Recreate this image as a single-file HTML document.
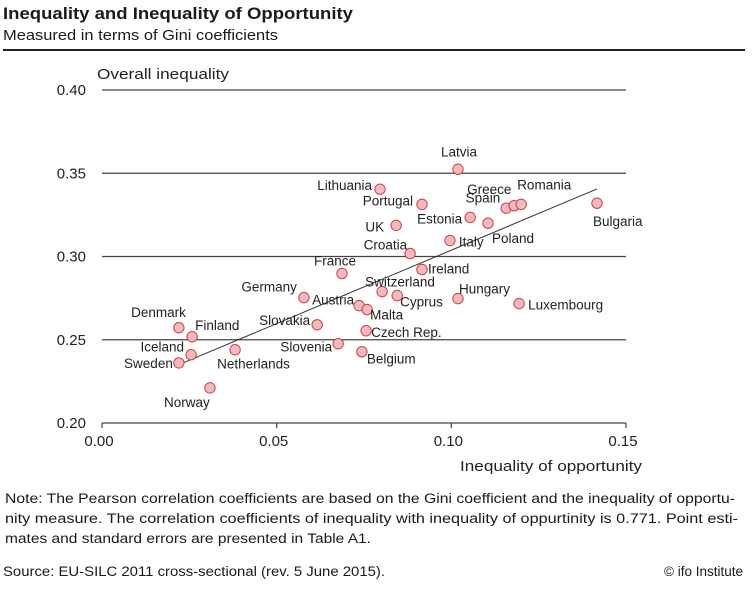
<!DOCTYPE html>
<html><head><meta charset="utf-8">
<style>
body{margin:0;background:#fff;font-family:"Liberation Sans",sans-serif;color:#1a1a1a;}
#wrap{position:relative;width:752px;height:593px;overflow:hidden;}
</style></head>
<body>
<div id="wrap">
<svg id="plot" width="752" height="593" style="position:absolute;left:0;top:0">
<text x="3" y="19" font-size="17" font-weight="bold" fill="#1a1a1a" textLength="350" lengthAdjust="spacingAndGlyphs">Inequality and Inequality of Opportunity</text>
<text x="3" y="40" font-size="15" fill="#1a1a1a" textLength="275" lengthAdjust="spacingAndGlyphs">Measured in terms of Gini coefficients</text>
<rect x="3" y="49" width="742" height="2" fill="#222"/>
<g font-size="13.5" fill="#1a1a1a">
<text x="5" y="503" textLength="730" lengthAdjust="spacingAndGlyphs">Note: The Pearson correlation coefficients are based on the Gini coefficient and the inequality of opportu-</text>
<text x="5" y="523" textLength="733" lengthAdjust="spacingAndGlyphs">nity measure. The correlation coefficients of inequality with inequality of oppurtinity is 0.771. Point esti-</text>
<text x="5" y="543" textLength="366" lengthAdjust="spacingAndGlyphs">mates and standard errors are presented in Table A1.</text>
</g>
<text x="3" y="576" font-size="13.5" fill="#1a1a1a" textLength="382" lengthAdjust="spacingAndGlyphs">Source: EU-SILC 2011 cross-sectional (rev. 5 June 2015).</text>
<text x="743" y="576" font-size="13.5" fill="#1a1a1a" text-anchor="end">©  ifo Institute</text>
</svg>
</div>
<script>
const countries=["Latvia","Lithuania","Portugal","Greece","Spain","Romania","Estonia","Poland","Bulgaria","UK","Italy","Croatia","France","Ireland","Germany","Switzerland","Cyprus","Hungary","Luxembourg","Austria","Malta","Slovakia","Denmark","Finland","Czech Rep.","Slovenia","Belgium","Netherlands","Iceland","Sweden","Norway"];
const oppValues=[0.1019,0.0796,0.0916,0.1157,0.1180,0.1200,0.1054,0.1105,0.1417,0.0842,0.0996,0.0882,0.0687,0.0916,0.0578,0.0802,0.0845,0.1019,0.1194,0.0736,0.0759,0.0616,0.0220,0.0258,0.0756,0.0676,0.0744,0.0381,0.0255,0.0220,0.0309];
const giniValues=[0.3524,0.3404,0.3313,0.3290,0.3305,0.3313,0.3235,0.3200,0.3320,0.3187,0.3096,0.3018,0.2898,0.2922,0.2753,0.2789,0.2765,0.2747,0.2717,0.2705,0.2681,0.2590,0.2572,0.2518,0.2554,0.2476,0.2428,0.2440,0.2410,0.2361,0.2211];
const xTicks=[0,0.05,0.10,0.15];
const xTickLabels=["0.00","0.05","0.10","0.15"];
const yTicks=[0.20,0.25,0.30,0.35,0.40];
const yTickLabels=["0.20","0.25","0.30","0.35","0.40"];
const fitSlope=0.882, fitIntercept=0.2156;
const labOff=[[1,-13,"middle"],[-8,1,"end"],[-9,1,"end"],[-39,-14,"start"],[-14,-3,"end"],[-4,-15,"start"],[-8,6,"end"],[4,20,"start"],[-4,23,"start"],[-12,6,"end"],[9,6,"start"],[-3,-4,"end"],[14,-8,"end"],[6,4,"start"],[-7,-6,"end"],[-17,-5,"start"],[3,11,"start"],[1,-5,"start"],[9,6,"start"],[-47,-1,"start"],[3,10,"start"],[-7,0,"end"],[7,-11,"end"],[3,-7,"start"],[5,6,"start"],[-6,8,"end"],[5,12,"start"],[-18,19,"start"],[-7,-3,"end"],[-6,5,"end"],[-23,19,"middle"]];
const X0=102,X1=626,Y0=423,Y1=90;
const xs=v=>X0+(v-0)/(0.15)*(X1-X0);
const ys=v=>Y0-(v-0.20)/(0.20)*(Y0-Y1);
const NS="http://www.w3.org/2000/svg";
const svg=document.getElementById('plot');
function mk(t,a){const e=document.createElementNS(NS,t);for(const k in a)e.setAttribute(k,a[k]);svg.appendChild(e);return e;}
yTicks.forEach((v,i)=>{
  if(i>0){const g=mk('line',{x1:X0,x2:X1,y1:ys(v),y2:ys(v),stroke:'#444','stroke-width':1.2});
  
  }
  const t=mk('text',{x:86,y:ys(v)+5,'text-anchor':'end','font-size':15,fill:'#222'});
  t.textContent=yTickLabels[i];
  
  
});
const ax=mk('line',{x1:X0,x2:X1,y1:Y0,y2:Y0,stroke:'#444','stroke-width':1.2});


xTicks.forEach((v,i)=>{
  const tk=mk('line',{x1:xs(v),x2:xs(v),y1:Y0,y2:Y0+5,stroke:'#444','stroke-width':1.2});
  
  
  const t=mk('text',{x:xs(v)-3,y:446,'text-anchor':'middle','font-size':15,fill:'#222'});
  t.textContent=xTickLabels[i];
  
  
});
let yt=mk('text',{x:97,y:79,'font-size':15,fill:'#222',textLength:132,lengthAdjust:'spacingAndGlyphs'});yt.textContent='Overall inequality';


let xt=mk('text',{x:460,y:471,'font-size':15,fill:'#222',textLength:182,lengthAdjust:'spacingAndGlyphs'});xt.textContent='Inequality of opportunity';


const fx0=Math.min(...oppValues),fx1=Math.max(...oppValues);
const fl=mk('line',{x1:xs(fx0),y1:ys(fitIntercept+fitSlope*fx0),x2:xs(fx1),y2:ys(fitIntercept+fitSlope*fx1),stroke:'#333','stroke-width':1});


countries.forEach((c,i)=>{
  const px=xs(oppValues[i]),py=ys(giniValues[i]);
  const p=mk('circle',{cx:px,cy:py,r:5.2,fill:'#f7b9bc',stroke:'#c8414b','stroke-width':1});
  
  
  const o=labOff[i];
  const t=mk('text',{x:px+o[0],y:py+o[1],'text-anchor':o[2],'font-size':13.5,fill:'#222'});
  t.textContent=c;
  
  
});
</script>
</body></html>
